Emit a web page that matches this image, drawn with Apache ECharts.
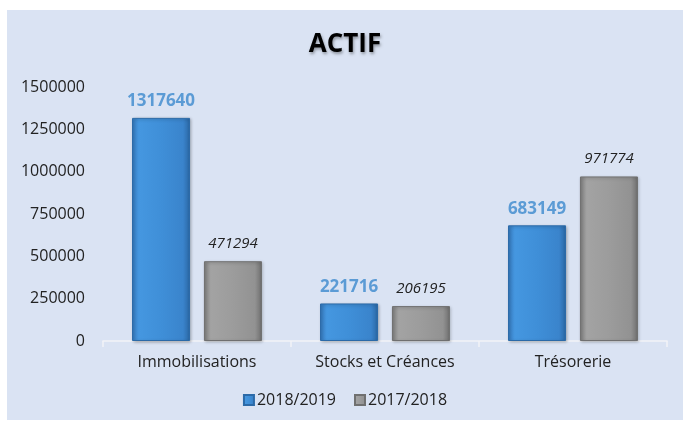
<!DOCTYPE html>
<html lang="fr">
<head>
    <meta charset="UTF-8">
    <title>ACTIF</title>
    <script src="https://cdn.jsdelivr.net/npm/echarts@6/dist/echarts.min.js"></script>
    <style>
        html, body { margin: 0; padding: 0; background: #ffffff; }
        #chart { position: absolute; left: 7px; top: 10px; width: 676px; height: 410px; }
    </style>
</head>
<body>
    <div id="chart"></div>
<script>
    // données
    var categories = ['Immobilisations', 'Stocks et Créances', 'Trésorerie'];
    var serie2019 = [1317640, 221716, 683149];
    var serie2018 = [471294, 206195, 971774];
    var seriesNames = ['2018/2019', '2017/2018'];

    var font = '"Open Sans", "Liberation Sans", sans-serif';
    var chart = echarts.init(document.getElementById('chart'));

    var blue = new echarts.graphic.LinearGradient(0, 0, 1, 0, [
        { offset: 0, color: '#3579bd' },
        { offset: 0.12, color: '#4597e0' },
        { offset: 0.5, color: '#3f8fd8' },
        { offset: 0.88, color: '#3a84cc' },
        { offset: 1, color: '#2a66a3' }
    ]);
    var grey = new echarts.graphic.LinearGradient(0, 0, 1, 0, [
        { offset: 0, color: '#7f7f7f' },
        { offset: 0.12, color: '#a3a3a3' },
        { offset: 0.5, color: '#9c9c9c' },
        { offset: 0.88, color: '#929292' },
        { offset: 1, color: '#6e6e6e' }
    ]);

    var option = {
        backgroundColor: '#dae3f3',
        title: {
            text: 'ACTIF',
            left: 'center',
            top: 17,
            textStyle: {
                fontFamily: font,
                fontSize: 26,
                fontWeight: 'bold',
                color: '#000',
                textShadowColor: 'rgba(0,0,0,0.35)',
                textShadowBlur: 3,
                textShadowOffsetX: 1,
                textShadowOffsetY: 2
            }
        },
        legend: {
            data: seriesNames,
            bottom: 7,
            left: 'center',
            itemWidth: 10,
            itemHeight: 10,
            itemGap: 18,
            icon: 'rect',
            textStyle: { fontFamily: font, fontSize: 16, color: '#222', padding: [0, 0, 0, -2] }
        },
        grid: { left: 96, right: 16, top: 77, bottom: 79 },
        xAxis: {
            type: 'category',
            data: categories,
            axisLine: { lineStyle: { color: '#f2f4f8', width: 1.5 } },
            axisTick: { show: true, length: 6, lineStyle: { color: '#f2f4f8', width: 1.5 } },
            axisLabel: { fontFamily: font, fontSize: 16, color: '#222', margin: 13 }
        },
        yAxis: {
            type: 'value',
            min: 0,
            max: 1500000,
            interval: 250000,
            splitLine: { show: false },
            axisLine: { show: false },
            axisTick: { show: false },
            axisLabel: {
                fontFamily: font,
                fontSize: 16,
                color: '#222',
                margin: 18,
                formatter: function (v) { return String(v); }
            }
        },
        series: [{
            name: seriesNames[0],
            type: 'bar',
            data: serie2019,
            barWidth: 58,
            barGap: '24%',
            itemStyle: {
                color: blue,
                borderColor: '#2b6aa8',
                borderWidth: 1,
                shadowColor: 'rgba(0,0,0,0.25)',
                shadowBlur: 3,
                shadowOffsetX: 1,
                shadowOffsetY: 1
            },
            label: {
                show: true,
                position: 'top',
                distance: 8,
                fontFamily: font,
                fontSize: 17,
                fontWeight: 'bold',
                color: '#5b9bd5'
            }
        }, {
            name: seriesNames[1],
            type: 'bar',
            data: serie2018,
            barWidth: 58,
            itemStyle: {
                color: grey,
                borderColor: '#707070',
                borderWidth: 1,
                shadowColor: 'rgba(0,0,0,0.25)',
                shadowBlur: 3,
                shadowOffsetX: 1,
                shadowOffsetY: 1
            },
            label: {
                show: true,
                position: 'top',
                distance: 10,
                fontFamily: font,
                fontSize: 15,
                fontStyle: 'italic',
                color: '#222'
            }
        }]
    };
    chart.setOption(option);
</script>
</body>
</html>
